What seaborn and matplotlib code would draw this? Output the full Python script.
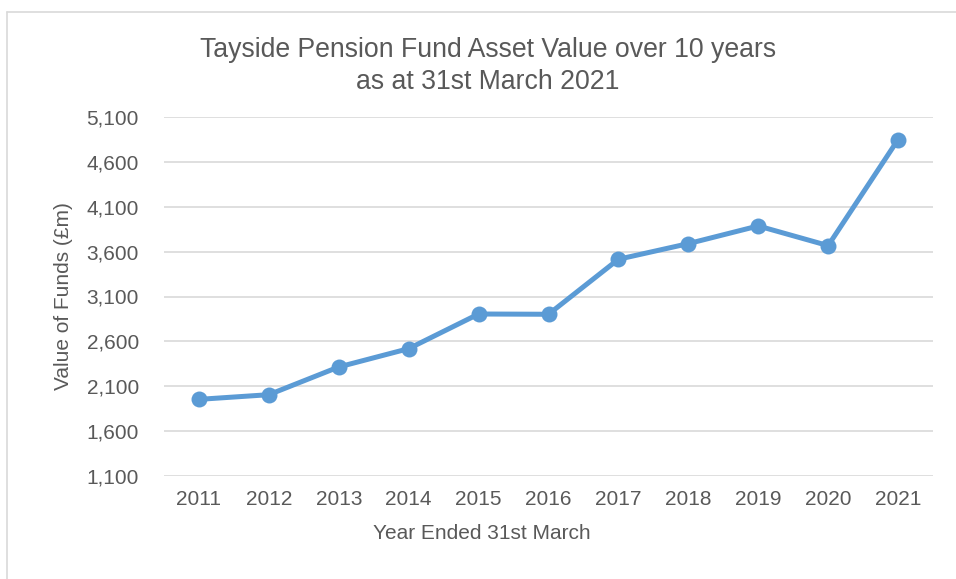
import seaborn as sns
import pandas as pd
import matplotlib.pyplot as plt
from matplotlib.lines import Line2D
import warnings

warnings.filterwarnings("ignore")

# Data (£m)
years = [2011, 2012, 2013, 2014, 2015, 2016, 2017, 2018, 2019, 2020, 2021]
values = [1954, 2006, 2315, 2519, 2905, 2902, 3515, 3689, 3886, 3667, 4848]
y_ticks = [1100, 1600, 2100, 2600, 3100, 3600, 4100, 4600, 5100]

title = "Tayside Pension Fund Asset Value over 10 years\nas at 31st March 2021"
x_label = "Year Ended 31st March"
y_label = "Value of Funds (£m)"

df = pd.DataFrame({"year": years, "value": values})

sns.set_style("white")
plt.rcParams["font.family"] = ["Liberation Sans", "DejaVu Sans"]
text_col = "#595959"
grid_col = "#D9D9D9"
line_col = "#5B9BD5"

fig = plt.figure(figsize=(9.56, 5.79), dpi=100)
ax = fig.add_axes([164 / 956, 1 - 476 / 579, (933 - 164) / 956, (476 - 117) / 579])

sns.lineplot(data=df, x="year", y="value", ax=ax, color=line_col, linewidth=3.6,
             marker="o", markersize=11.5, markeredgewidth=0, zorder=3)

ax.set_xlim(2010.5, 2021.5)
ax.set_ylim(1100, 5100)
ax.set_xticks(years)
ax.set_xticklabels([str(y) for y in years])
ax.set_yticks(y_ticks)
ax.set_yticklabels([f"{v:,}" for v in y_ticks])

ax.yaxis.grid(True, color=grid_col, linewidth=1.2)
ax.xaxis.grid(False)
for s in ax.spines.values():
    s.set_visible(False)

ax.tick_params(axis="y", length=0, pad=18, labelsize=15, labelcolor=text_col)
ax.tick_params(axis="x", length=0, pad=10, labelsize=15, labelcolor=text_col)
ax.set_xlabel(x_label, fontsize=15, color=text_col, labelpad=11)
ax.xaxis.label.set_x((482 - 164) / (933 - 164))
ax.set_ylabel(y_label, fontsize=15, color=text_col, labelpad=10)

fig.text(488 / 956, 1 - 66 / 579, title, ha="center", va="center",
         fontsize=19.2, color=text_col, linespacing=1.32)

# chart area frame (partially cropped in the original)
fig.add_artist(Line2D([7 / 956, 7 / 956], [0, 1 - 12 / 579], color=grid_col,
                      linewidth=1.2, transform=fig.transFigure))
fig.add_artist(Line2D([7 / 956, 1], [1 - 12 / 579, 1 - 12 / 579], color=grid_col,
                      linewidth=1.2, transform=fig.transFigure))

fig.savefig("out.png", dpi=100)
